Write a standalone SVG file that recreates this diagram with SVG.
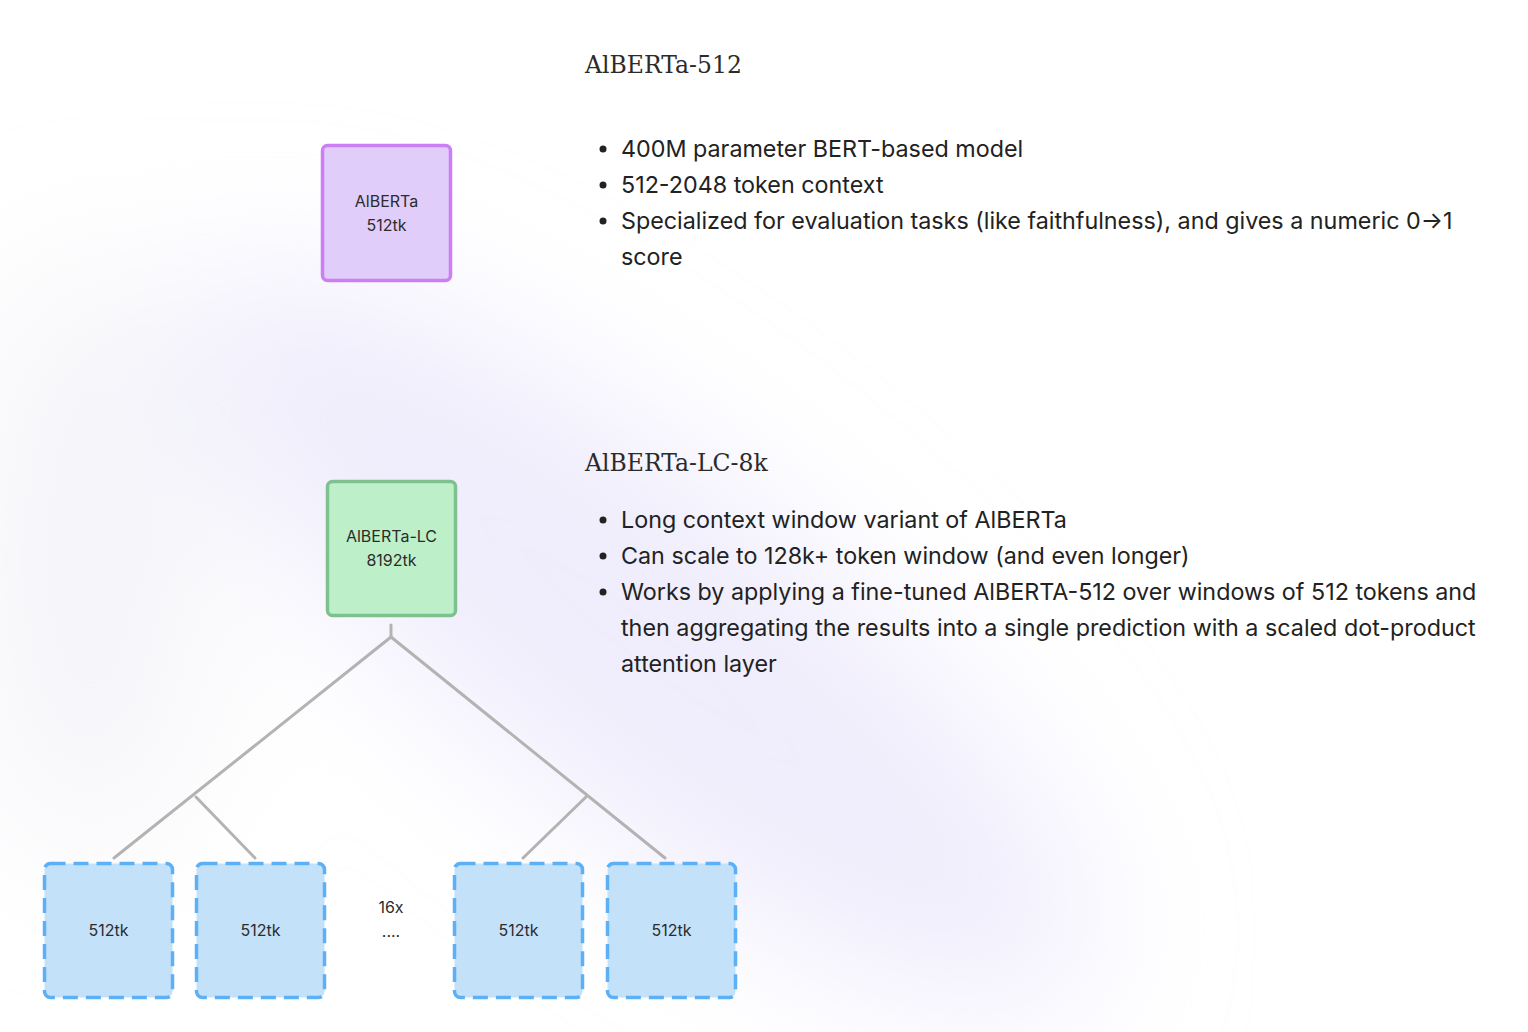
<svg xmlns="http://www.w3.org/2000/svg" width="1528" height="1032" viewBox="0 0 1528 1032">
<defs>
<filter id="glow" x="-50%" y="-50%" width="200%" height="200%"><feGaussianBlur stdDeviation="75"/></filter>
<style>
.title{font-family:"DejaVu Serif","Liberation Serif",serif;font-size:23.5px;fill:#2b2b2b}
.body{font-family:Inter,"Noto Sans",sans-serif;font-size:23.3px;fill:#222222}
.lbl{font-family:Inter,"Noto Sans",sans-serif;font-size:16px;fill:#2c2c2c;text-anchor:middle}
.conn{stroke:#b3b3b3;stroke-width:3;fill:none;stroke-linecap:round}
.win rect{fill:#c4e1fa;stroke:#5cb1f6;stroke-width:3.5;stroke-dasharray:15 8}
</style>
</defs>
<rect width="1528" height="1032" fill="#ffffff"/>
<g filter="url(#glow)">
<ellipse cx="640" cy="640" rx="560" ry="170" fill="#e9e5fb" opacity="0.75" transform="rotate(38 640 640)"/>
<ellipse cx="90" cy="560" rx="120" ry="300" fill="#f3f3f7" opacity="0.8"/>
</g>

<g id="desc-alberta-512">
<text class="title" x="585" y="73">AlBERTa-512</text>
<circle cx="603" cy="149" r="3.5" fill="#222222"/>
<circle cx="603" cy="185" r="3.5" fill="#222222"/>
<circle cx="603" cy="221" r="3.5" fill="#222222"/>
<text class="body" x="621" y="157">400M parameter BERT-based model</text>
<text class="body" x="621" y="193">512-2048 token context</text>
<text class="body" x="621" y="229">Specialized for evaluation tasks (like faithfulness), and gives a numeric 0→1</text>
<text class="body" x="621" y="265">score</text>
</g>

<g id="desc-alberta-lc">
<text class="title" x="585" y="471">AlBERTa-LC-8k</text>
<circle cx="603" cy="520" r="3.5" fill="#222222"/>
<circle cx="603" cy="556" r="3.5" fill="#222222"/>
<circle cx="603" cy="592" r="3.5" fill="#222222"/>
<text class="body" x="621" y="528">Long context window variant of AlBERTa</text>
<text class="body" x="621" y="564">Can scale to 128k+ token window (and even longer)</text>
<text class="body" x="621" y="600">Works by applying a fine-tuned AlBERTA-512 over windows of 512 tokens and</text>
<text class="body" x="621" y="636">then aggregating the results into a single prediction with a scaled dot-product</text>
<text class="body" x="621" y="672">attention layer</text>
</g>

<g id="connectors">
<polyline class="conn" points="391,625 391,637"/>
<line class="conn" x1="391" y1="637" x2="114" y2="858"/>
<line class="conn" x1="391" y1="637" x2="665" y2="858"/>
<line class="conn" x1="196" y1="797" x2="255" y2="858"/>
<line class="conn" x1="586" y1="797" x2="523" y2="858"/>
</g>

<g id="node-alberta">
<rect x="322.5" y="145.5" width="128" height="135" rx="5" fill="#e0cdfa" stroke="#cc7ef5" stroke-width="3.5"/>
<text class="lbl" x="386.5" y="207">AlBERTa</text>
<text class="lbl" x="386.5" y="231">512tk</text>
</g>

<g id="node-alberta-lc">
<rect x="327.5" y="481.5" width="128" height="134" rx="5" fill="#bdf0c9" stroke="#7ec18f" stroke-width="3.5"/>
<text class="lbl" x="391.5" y="542">AlBERTa-LC</text>
<text class="lbl" x="391.5" y="566">8192tk</text>
</g>

<g id="win1" class="win"><rect x="44.5" y="863.5" width="128" height="134" rx="6"/><text class="lbl" x="108.5" y="936">512tk</text></g>
<g id="win2" class="win"><rect x="196.5" y="863.5" width="128" height="134" rx="6"/><text class="lbl" x="260.5" y="936">512tk</text></g>
<g id="win3" class="win"><rect x="454.5" y="863.5" width="128" height="134" rx="6"/><text class="lbl" x="518.5" y="936">512tk</text></g>
<g id="win4" class="win"><rect x="607.5" y="863.5" width="128" height="134" rx="6"/><text class="lbl" x="671.5" y="936">512tk</text></g>

<g id="repeat-label">
<text class="lbl" x="391" y="913">16x</text>
<text class="lbl" x="391" y="937">....</text>
</g>
</svg>
